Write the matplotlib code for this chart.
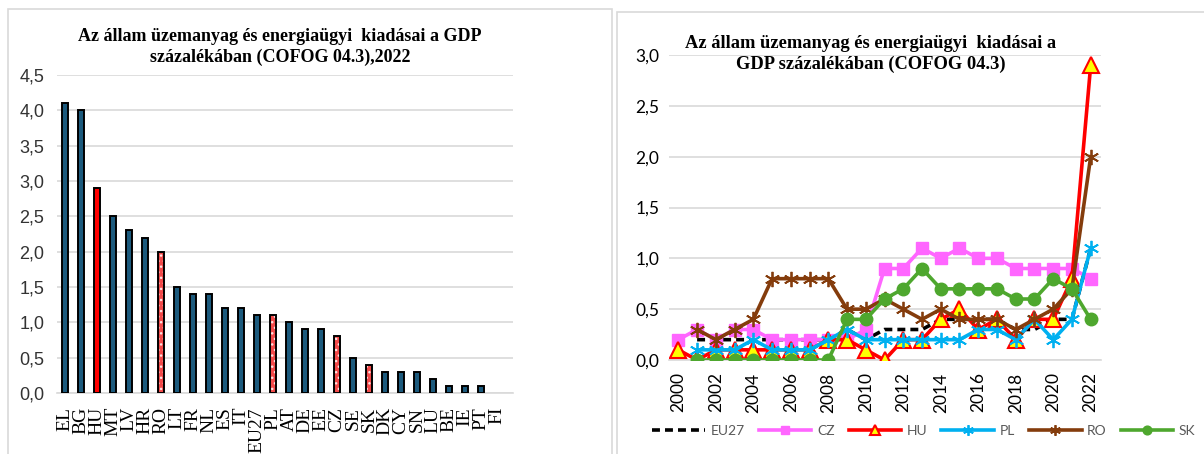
import numpy as np
import matplotlib
matplotlib.use("Agg")
import matplotlib.pyplot as plt
from matplotlib.patches import Rectangle

# ---------------- data ----------------
countries = ["EL", "BG", "HU", "MT", "LV", "HR", "RO", "LT", "FR", "NL", "ES", "IT", "EU27", "PL",
             "AT", "DE", "EE", "CZ", "SE", "SK", "DK", "CY", "SN", "LU", "BE", "IE", "PT", "FI"]
values_2022 = [4.1, 4.0, 2.9, 2.5, 2.3, 2.2, 2.0, 1.5, 1.4, 1.4, 1.2, 1.2, 1.1, 1.1,
               1.0, 0.9, 0.9, 0.8, 0.5, 0.4, 0.3, 0.3, 0.3, 0.2, 0.1, 0.1, 0.1, 0.0]
highlight = ["HU"]
patterned = ["RO", "PL", "CZ", "SK"]

years = list(range(2000, 2023))
nan = np.nan
eu27 = [nan, 0.2, 0.2, 0.2, 0.2, 0.2, 0.2, 0.2, 0.2, 0.3, 0.2, 0.3, 0.3, 0.3, 0.4, 0.4, 0.4, 0.4, 0.3, 0.3, 0.4, 0.4, 1.1]
cz = [0.2, 0.3, 0.2, 0.3, 0.3, 0.2, 0.2, 0.2, 0.2, 0.2, 0.3, 0.9, 0.9, 1.1, 1.0, 1.1, 1.0, 1.0, 0.9, 0.9, 0.9, 0.9, 0.8]
hu = [0.1, 0.0, 0.1, 0.1, 0.1, 0.1, 0.1, 0.1, 0.2, 0.2, 0.1, 0.0, 0.2, 0.2, 0.4, 0.5, 0.3, 0.4, 0.2, 0.4, 0.4, 0.8, 2.9]
pl = [nan, 0.1, 0.1, 0.1, 0.2, 0.1, 0.1, 0.1, 0.2, 0.3, 0.2, 0.2, 0.2, 0.2, 0.2, 0.2, 0.3, 0.3, 0.2, 0.4, 0.2, 0.4, 1.1]
ro = [nan, 0.3, 0.2, 0.3, 0.4, 0.8, 0.8, 0.8, 0.8, 0.5, 0.5, 0.6, 0.5, 0.4, 0.5, 0.4, 0.4, 0.4, 0.3, 0.4, 0.5, 0.7, 2.0]
sk = [nan, 0.0, 0.0, 0.0, 0.0, 0.0, 0.0, 0.0, 0.0, 0.4, 0.4, 0.6, 0.7, 0.9, 0.7, 0.7, 0.7, 0.7, 0.6, 0.6, 0.8, 0.7, 0.4]

title_left = "Az állam üzemanyag és energiaügyi  kiadásai a GDP\nszázalékában (COFOG 04.3),2022"
title_right = "Az állam üzemanyag és energiaügyi  kiadásai a\nGDP százalékában (COFOG 04.3)"

# ---------------- figure ----------------
W, H = 1204, 454
fig = plt.figure(figsize=(W / 100, H / 100), dpi=100)
fig.patch.set_facecolor("white")

def fx(px):
    return px / W

def fy(py):
    return 1 - py / H

# panel borders
fig.add_artist(Rectangle((fx(8), fy(470)), fx(604), fy(9) - fy(470), transform=fig.transFigure,
                         fill=False, edgecolor="#D9D9D9", linewidth=1.2))
fig.add_artist(Rectangle((fx(617), fy(470)), fx(600), fy(12) - fy(470), transform=fig.transFigure,
                         fill=False, edgecolor="#D9D9D9", linewidth=1.2))

serif = "Liberation Serif"
sans = "Liberation Sans"
calib = "Lato"
grid_c = "#D9D9D9"

# ---------------- left: bar chart ----------------
axL = fig.add_axes([fx(57), fy(393), fx(513) - fx(57), fy(75) - fy(393)])
x = np.arange(len(countries))
blue = "#1C5A7D"
bw = 0.38
for i, (c, v) in enumerate(zip(countries, values_2022)):
    elw = 1.4 if v > 0 else 0
    if c in highlight:
        axL.bar(i, v, width=bw, color="#FF0000", edgecolor="black", linewidth=elw, zorder=3)
    elif c in patterned:
        axL.bar(i, v, width=bw, color="#F24A4A", edgecolor="#FFE0E0", hatch="...",
                linewidth=0, zorder=3)
        axL.bar(i, v, width=bw, fill=False, edgecolor="black", linewidth=elw, zorder=4)
    else:
        axL.bar(i, v, width=bw, color=blue, edgecolor="black", linewidth=elw, zorder=3)

axL.set_xlim(-0.5, len(countries))
axL.set_ylim(0, 4.5)
ytl = np.arange(0, 4.51, 0.5)
axL.set_yticks(ytl)
axL.set_yticklabels([f"{t:.1f}".replace(".", ",") for t in ytl],
                    fontsize=13, fontfamily=sans, color="#333333")
axL.set_xticks(x)
axL.set_xticklabels(countries, rotation=90, fontsize=14, fontfamily=serif, color="black")
axL.tick_params(axis="y", length=0, pad=9)
axL.tick_params(axis="x", length=0, pad=10)
axL.yaxis.grid(True, color=grid_c, linewidth=1.2, zorder=0)
axL.set_axisbelow(True)
for s in ["top", "right", "left"]:
    axL.spines[s].set_visible(False)
axL.spines["bottom"].set_color(grid_c)
axL.spines["bottom"].set_linewidth(1.2)
fig.text(fx(280), fy(47), title_left, ha="center", va="center", fontsize=13,
         fontweight="bold", fontfamily=serif, linespacing=1.3)

# ---------------- right: line chart ----------------
axR = fig.add_axes([fx(669), fy(360), fx(1101) - fx(669), fy(55) - fy(360)])
lw = 2.6
axR.plot(years, eu27, color="black", linewidth=lw, linestyle=(0, (2.2, 1.4)), label="EU27", zorder=3)
axR.plot(years, cz, color="#FF66FF", linewidth=lw, marker="s", markersize=9,
         markerfacecolor="#FF66FF", markeredgecolor="#FF66FF", label="CZ", zorder=3)
axR.plot(years, hu, color="#FF0000", linewidth=lw, marker="^", markersize=11,
         markerfacecolor="#FFFF00", markeredgecolor="#FF0000", markeredgewidth=1.5, label="HU", zorder=4)
axR.plot(years, pl, color="#00B0F0", linewidth=lw, marker=(6, 2, 0), markersize=11,
         markeredgecolor="#00B0F0", markeredgewidth=1.3, label="PL", zorder=5)
axR.plot(years, ro, color="#843C0C", linewidth=lw, marker=(6, 2, 0), markersize=11,
         markeredgecolor="#843C0C", markeredgewidth=1.3, label="RO", zorder=5)
axR.plot(years, sk, color="#4EA72E", linewidth=lw, marker="o", markersize=9,
         markerfacecolor="#4EA72E", markeredgecolor="#4EA72E", label="SK", zorder=6)

axR.set_xlim(1999.5, 2022.55)
axR.set_ylim(0, 3.0)
yt = np.arange(0, 3.01, 0.5)
axR.set_yticks(yt)
axR.set_yticklabels([f"{t:.1f}".replace(".", ",") for t in yt], fontsize=12.5,
                    fontfamily=calib, color="black")
xt = list(range(2000, 2023, 2))
axR.set_xticks(xt)
axR.set_xticklabels([str(t) for t in xt], rotation=90, fontsize=12.5, fontfamily=calib, color="black")
axR.tick_params(axis="y", length=0, pad=7)
axR.tick_params(axis="x", length=0, pad=9)
axR.yaxis.grid(True, color=grid_c, linewidth=1.2, zorder=0)
axR.set_axisbelow(True)
for s in ["top", "right", "left"]:
    axR.spines[s].set_visible(False)
axR.spines["bottom"].set_color(grid_c)
axR.spines["bottom"].set_linewidth(1.2)
fig.text(fx(871), fy(54), title_right, ha="center", va="center", fontsize=13.3,
         fontweight="bold", fontfamily=serif, linespacing=1.3)

leg = fig.legend(*axR.get_legend_handles_labels(), loc="center", bbox_to_anchor=(fx(924), fy(431)),
                 ncol=6, frameon=False, handlelength=3.8, columnspacing=1.0, handletextpad=0.4,
                 markerscale=0.7, prop={"family": calib, "size": 10})
for t in leg.get_texts():
    t.set_color("#595959")

fig.savefig("out.png", dpi=100, facecolor="white")
